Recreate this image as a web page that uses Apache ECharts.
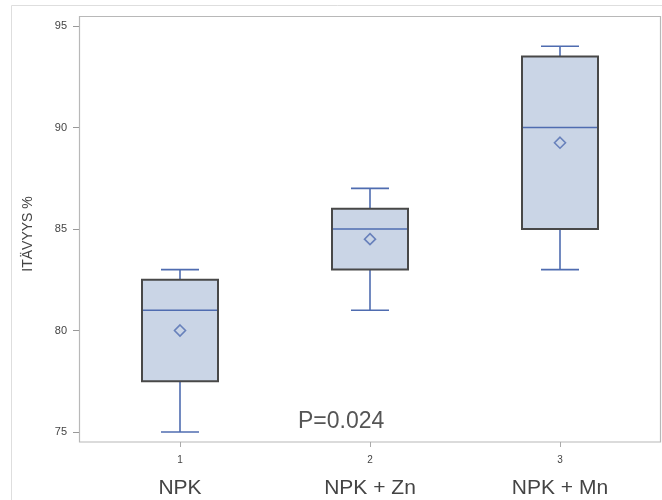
<!DOCTYPE html>
<html>
<head>
<meta charset="utf-8">
<script src="https://cdn.jsdelivr.net/npm/echarts@6/dist/echarts.min.js"></script>
<style>html,body{margin:0;padding:0;background:#fff;}#c{width:662px;height:500px;}</style>
</head>
<body>
<div id="c"></div>
<script>
const categories = ['NPK', 'NPK + Zn', 'NPK + Mn'];
const tickNumbers = ['1', '2', '3'];
// [min, Q1, median, Q3, max]
const boxValues = [
  [75, 77.5, 81, 82.5, 83],
  [81, 83, 85, 86, 87],
  [83, 85, 90, 93.5, 94]
];
const meanValues = [80, 84.5, 89.25];
const yTicks = [75, 80, 85, 90, 95];
const yTitle = 'ITÄVYYS %';
const pText = 'P=0.024';

const chart = echarts.init(document.getElementById('c'), null, {renderer: 'canvas'});
const FONT = '"Liberation Sans", Arial, sans-serif';
const blue = '#4f6cb0';

const customData = boxValues.map((b, i) => [i].concat(b));
const meanData = meanValues.map((m, i) => [i, m]);

chart.setOption({
  animation: false,
  grid: {left: 85, right: 7, top: 26, bottom: 68, containLabel: false},
  graphic: [
    {type: 'rect', z: -1, shape: {x: 11.5, y: 5.5, width: 700, height: 600},
     style: {fill: 'none', stroke: '#dedede', lineWidth: 1}},
    {type: 'rect', z: -1, shape: {x: 79.5, y: 16.5, width: 581, height: 425.5},
     style: {fill: 'none', stroke: '#b8b8b8', lineWidth: 1.2}},
    {type: 'text', left: 298, top: 410,
     style: {text: pText, font: '23px ' + FONT, fill: '#555'}},
    {type: 'text', x: 28, y: 234, rotation: Math.PI / 2,
     style: {text: yTitle, font: '14px ' + FONT, fill: '#444', align: 'center', verticalAlign: 'middle'}}
  ],
  xAxis: {
    type: 'category',
    data: tickNumbers,
    offset: 10,
    boundaryGap: true,
    axisLine: {show: false},
    axisTick: {show: true, alignWithLabel: true, length: 5, lineStyle: {color: '#aaa'}},
    axisLabel: {
      margin: 8,
      formatter: (v, i) => '{n|' + v + '}\n{c|' + categories[i] + '}',
      rich: {
        n: {fontSize: 10, lineHeight: 20, color: '#444', fontFamily: FONT},
        c: {fontSize: 21, lineHeight: 36, color: '#444', fontFamily: FONT}
      }
    },
    splitLine: {show: false}
  },
  yAxis: {
    type: 'value',
    min: yTicks[0],
    max: yTicks[yTicks.length - 1],
    interval: 5,
    offset: 6,
    axisLine: {show: false},
    axisTick: {show: true, length: 6, lineStyle: {color: '#999'}},
    axisLabel: {fontSize: 11, color: '#444', margin: 12, fontFamily: FONT},
    splitLine: {show: false}
  },
  series: [
    {
      type: 'custom',
      data: customData,
      encode: {x: 0, y: [1, 2, 3, 4, 5]},
      renderItem: function (params, api) {
        const i = api.value(0);
        const pMin = api.coord([i, api.value(1)]);
        const pQ1 = api.coord([i, api.value(2)]);
        const pMed = api.coord([i, api.value(3)]);
        const pQ3 = api.coord([i, api.value(4)]);
        const pMax = api.coord([i, api.value(5)]);
        const band = api.size([1, 0])[0];
        const bw = band * 0.4;
        const cw = bw / 2;
        const x = pMed[0];
        const lineStyle = {stroke: blue, lineWidth: 1.6};
        return {
          type: 'group',
          children: [
            {type: 'line', shape: {x1: x, y1: pQ1[1], x2: x, y2: pMin[1]}, style: lineStyle},
            {type: 'line', shape: {x1: x, y1: pQ3[1], x2: x, y2: pMax[1]}, style: lineStyle},
            {type: 'line', shape: {x1: x - cw / 2, y1: pMin[1], x2: x + cw / 2, y2: pMin[1]}, style: lineStyle},
            {type: 'line', shape: {x1: x - cw / 2, y1: pMax[1], x2: x + cw / 2, y2: pMax[1]}, style: lineStyle},
            {type: 'rect', shape: {x: x - bw / 2, y: pQ3[1], width: bw, height: pQ1[1] - pQ3[1]},
             style: {fill: '#cad5e6', stroke: '#484848', lineWidth: 2}},
            {type: 'line', shape: {x1: x - bw / 2 + 1, y1: pMed[1], x2: x + bw / 2 - 1, y2: pMed[1]}, style: lineStyle}
          ]
        };
      }
    },
    {
      type: 'scatter',
      data: meanData,
      symbol: 'diamond',
      symbolSize: 11,
      itemStyle: {color: 'rgba(0,0,0,0)', borderColor: blue, borderWidth: 1.6},
      z: 5
    }
  ]
});
</script>
</body>
</html>
